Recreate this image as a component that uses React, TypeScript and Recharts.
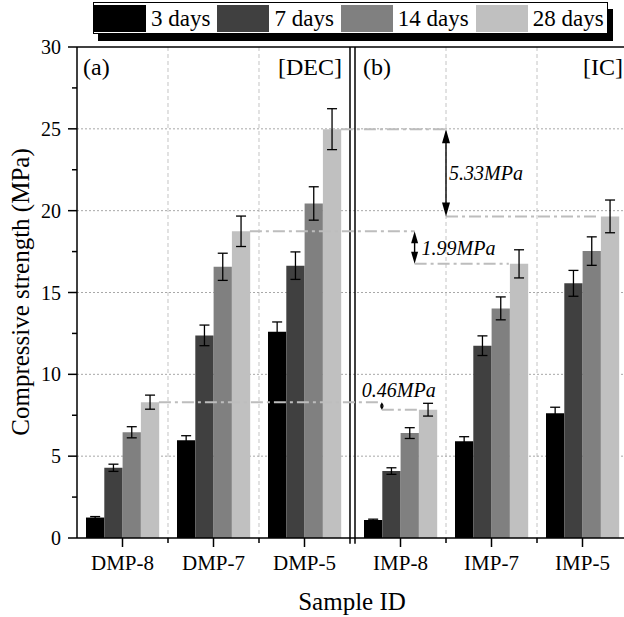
import React from 'react';
import { BarChart, Bar, XAxis, YAxis, CartesianGrid, ErrorBar, ReferenceLine } from 'recharts';

const FONT = '"Liberation Serif", "Times New Roman", serif';

// ---- data ----
const categories = ['DMP-8', 'DMP-7', 'DMP-5', 'IMP-8', 'IMP-7', 'IMP-5'];
const categoryX = [1, 2, 3, 4.055, 5.055, 6.055];
const seriesNames = ['3 days', '7 days', '14 days', '28 days'];
const seriesColors = ['#000000', '#404040', '#808080', '#c0c0c0'];

const strength3 = [1.25, 5.97, 12.6, 1.1, 5.91, 7.62];
const err3 = [0.06, 0.28, 0.6, 0.05, 0.28, 0.37];
const strength7 = [4.29, 12.38, 16.64, 4.09, 11.75, 15.56];
const err7 = [0.22, 0.63, 0.84, 0.2, 0.6, 0.79];
const strength14 = [6.46, 16.57, 20.44, 6.41, 14.03, 17.53];
const err14 = [0.34, 0.83, 1.02, 0.33, 0.7, 0.87];
const strength28 = [8.3, 18.74, 24.98, 7.84, 16.75, 19.65];
const err28 = [0.43, 0.93, 1.25, 0.39, 0.86, 1.0];

const xDomain: [number, number] = [0.5, 6.555];
const yDomain: [number, number] = [0, 30];
const xMinorTicks = [1.5, 2.5, 4.555, 5.555];
const panelSplit = [3.5, 3.555];
const yTicksAll = [0, 2.5, 5, 7.5, 10, 12.5, 15, 17.5, 20, 22.5, 25, 27.5, 30];
const yGrid = [5, 10, 15, 20, 25];
const panelLabels = ['(a)', '[DEC]', '(b)', '[IC]'];

const annotations = [
  { from: 0, to: 3, arrowX: 3.85, label: '0.46MPa', head: [4, 3.5], mode: 'above', dx: -20 },
  { from: 1, to: 4, arrowX: 4.21, label: '1.99MPa', head: [7, 12], mode: 'right', dx: 7 },
  { from: 2, to: 5, arrowX: 4.555, label: '5.33MPa', head: [8, 14], mode: 'right', dx: 3 },
];

const seriesKeys = ['s3', 's7', 's14', 's28'];
const errKeys = ['e3', 'e7', 'e14', 'e28'];
const seriesData = [strength3, strength7, strength14, strength28];
const errData = [err3, err7, err14, err28];

const rows = categories.map((name, i) => {
  const r: any = { name, x: categoryX[i] };
  seriesKeys.forEach((k, j) => {
    r[k] = seriesData[j][i];
    r[errKeys[j]] = errData[j][i];
  });
  return r;
});

// ---- layout ----
const W = 660;
const H = 617;
const PLOT_LEFT = 77;
const PLOT_TOP = 47;
const PLOT_RIGHT = 628;
const PLOT_BOTTOM = 538;

const XTick = (props: any) => {
  const { x, y, payload } = props;
  const i = categoryX.indexOf(payload.value);
  return (
    <g>
      <line x1={x} y1={y} x2={x} y2={y + 9} stroke="#000" strokeWidth={1.5} />
      <text x={x} y={y + 32} textAnchor="middle" fontFamily={FONT} fontSize={21} fill="#000">
        {categories[i]}
      </text>
    </g>
  );
};

const YTick = (props: any) => {
  const { x, y, payload } = props;
  const v = payload.value;
  const major = v % 5 === 0;
  return (
    <g>
      <line x1={x} y1={y} x2={x - (major ? 9 : 5)} y2={y} stroke="#000" strokeWidth={1.5} />
      {major && (
        <text x={x - 16} y={y} dy="0.35em" textAnchor="end" fontFamily={FONT} fontSize={20} fill="#000">
          {v}
        </text>
      )}
    </g>
  );
};

const makeArrow = (a: any) => (props: any) => {
  const { x1, y1, y2 } = props;
  const [hw, hh] = a.head;
  const top = Math.min(y1, y2);
  const bot = Math.max(y1, y2);
  const lx = x1 + a.dx;
  const ly = a.mode === 'above' ? top - 12 : (top + bot) / 2;
  return (
    <g>
      <line x1={x1} x2={x1} y1={top + hh * 0.7} y2={bot - hh * 0.7} stroke="#000" strokeWidth={1.4} />
      <polygon points={`${x1},${top} ${x1 - hw / 2},${top + hh} ${x1 + hw / 2},${top + hh}`} fill="#000" />
      <polygon points={`${x1},${bot} ${x1 - hw / 2},${bot - hh} ${x1 + hw / 2},${bot - hh}`} fill="#000" />
      <text x={lx} y={ly} dy="0.35em" fontFamily={FONT} fontStyle="italic" fontSize={20} fill="#000">
        {a.label}
      </text>
    </g>
  );
};

const dashDot = { stroke: '#bdbdbd', strokeWidth: 2, strokeDasharray: '12 4 3 4' };

const vGen = ({ offset }: any) =>
  xMinorTicks.map((v) => offset.left + ((v - xDomain[0]) / (xDomain[1] - xDomain[0])) * offset.width);
const hGen = ({ offset }: any) =>
  yGrid.map((v) => offset.top + offset.height - ((v - yDomain[0]) / (yDomain[1] - yDomain[0])) * offset.height);

export default function App() {
  return (
    <div style={{ position: 'absolute', left: 0, top: 0, width: 624, height: 617, overflow: 'hidden', background: '#fff' }}>
      <div style={{ position: 'absolute', left: 0, top: 0 }}>
        <BarChart
          width={W}
          height={H}
          data={rows}
          margin={{ top: PLOT_TOP, right: W - PLOT_RIGHT, bottom: 0, left: 0 }}
          barGap={0}
          barSize={18.3}
        >
          <CartesianGrid horizontal={false} stroke="#c4c4c4" strokeDasharray="4 3" verticalCoordinatesGenerator={vGen} />
          <CartesianGrid vertical={false} stroke="#a8a8a8" strokeDasharray="2 2" horizontalCoordinatesGenerator={hGen} />
          <XAxis
            dataKey="x"
            type="number"
            domain={xDomain}
            ticks={categoryX}
            interval={0}
            height={H - PLOT_BOTTOM}
            tickSize={0}
            tickMargin={0}
            tickLine={false}
            tick={<XTick />}
            axisLine={{ stroke: '#000', strokeWidth: 1.5 }}
          />
          <YAxis
            type="number"
            domain={yDomain}
            ticks={yTicksAll}
            interval={0}
            width={PLOT_LEFT}
            tickSize={0}
            tickMargin={0}
            tickLine={false}
            tick={<YTick />}
            axisLine={{ stroke: '#000', strokeWidth: 1.5 }}
          />
          {seriesKeys.map((k, i) => (
            <Bar key={k} dataKey={k} fill={seriesColors[i]} isAnimationActive={false}>
              <ErrorBar dataKey={errKeys[i]} width={5} stroke="#000" strokeWidth={1.3} direction="y" />
            </Bar>
          ))}
          {xMinorTicks.map((v) => (
            <ReferenceLine
              key={'mt' + v}
              segment={[{ x: v, y: 0 }, { x: v, y: -0.3 }]}
              stroke="#000"
              strokeWidth={1.5}
              ifOverflow="visible"
            />
          ))}
          <ReferenceLine y={30} stroke="#000" strokeWidth={1.5} />
          {panelSplit.map((v) => (
            <ReferenceLine
              key={'ps' + v}
              segment={[{ x: v, y: 30 }, { x: v, y: -0.35 }]}
              stroke="#000"
              strokeWidth={1.5}
              ifOverflow="visible"
            />
          ))}
          {annotations.map((a, i) => (
            <ReferenceLine
              key={'au' + i}
              segment={[{ x: categoryX[a.from] + 0.4, y: strength28[a.from] }, { x: a.arrowX, y: strength28[a.from] }]}
              {...dashDot}
            />
          ))}
          {annotations.map((a, i) => (
            <ReferenceLine
              key={'al' + i}
              segment={[{ x: a.arrowX, y: strength28[a.to] }, { x: categoryX[a.to] + 0.19, y: strength28[a.to] }]}
              {...dashDot}
            />
          ))}
          {annotations.map((a, i) => (
            <ReferenceLine
              key={'aa' + i}
              segment={[{ x: a.arrowX, y: strength28[a.from] }, { x: a.arrowX, y: strength28[a.to] }]}
              shape={makeArrow(a)}
            />
          ))}
        </BarChart>
      </div>

      {/* texts overlay */}
      <svg width={624} height={617} style={{ position: 'absolute', left: 0, top: 0, pointerEvents: 'none' }}>
        <text x={83} y={75} fontFamily={FONT} fontSize={24} fill="#000">{panelLabels[0]}</text>
        <text x={342} y={75} textAnchor="end" fontFamily={FONT} fontSize={24} fill="#000">{panelLabels[1]}</text>
        <text x={363} y={75} fontFamily={FONT} fontSize={24} fill="#000">{panelLabels[2]}</text>
        <text x={583} y={75} fontFamily={FONT} fontSize={24} fill="#000">{panelLabels[3]}</text>
        <text x={352} y={610} textAnchor="middle" fontFamily={FONT} fontSize={25} fill="#000">Sample ID</text>
        <text
          transform="translate(29 292) rotate(-90)"
          textAnchor="middle"
          fontFamily={FONT}
          fontSize={25}
          fill="#000"
        >
          Compressive strength (MPa)
        </text>
      </svg>

      {/* legend */}
      <div style={{ position: 'absolute', left: 98, top: 9, width: 515, height: 32, background: '#000' }} />
      <div
        style={{
          position: 'absolute',
          left: 93,
          top: 2,
          width: 515,
          height: 32,
          boxSizing: 'border-box',
          border: '1px solid #000',
          background: '#fff',
          display: 'flex',
          alignItems: 'center',
          fontFamily: FONT,
          fontSize: 23,
          lineHeight: 1,
          color: '#000',
        }}
      >
        {seriesNames.map((n, i) => (
          <div key={n} style={{ display: 'flex', alignItems: 'center', marginLeft: i === 0 ? 0 : 7 }}>
            <div style={{ width: 52, height: 27, background: seriesColors[i] }} />
            <span style={{ marginLeft: 5, whiteSpace: 'nowrap' }}>{n}</span>
          </div>
        ))}
      </div>
    </div>
  );
}
